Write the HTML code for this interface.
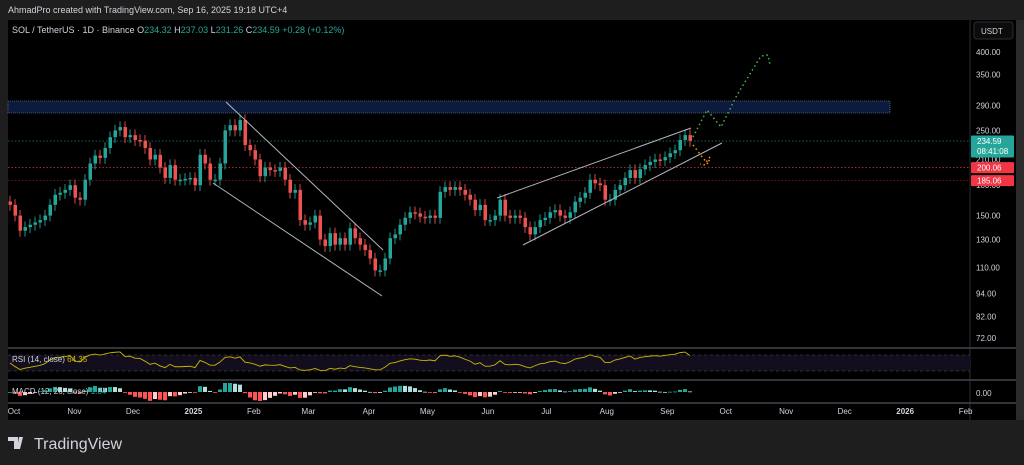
<!DOCTYPE html>
<html><head><meta charset="utf-8">
<style>
body{margin:0;background:#1e1e1e;width:1024px;height:465px;overflow:hidden;font-family:"Liberation Sans",sans-serif}
svg{display:block}
</style></head>
<body>
<svg id="chart" width="1024" height="465">
<rect x="0" y="0" width="1024" height="465" fill="#1e1e1e"/>
<text x="8" y="13" fill="#d1d4dc" font-size="9">AhmadPro created with TradingView.com, Sep 16, 2025 19:18 UTC+4</text>
<rect x="8" y="20" width="1008" height="400" fill="#000"/>
<line x1="970" y1="20" x2="970" y2="420" stroke="#2a2e39"/>
<g id="overlay"></g>
<text x="12" y="33" font-size="9" fill="#d1d4dc">SOL / TetherUS · 1D · Binance <tspan fill="#d1d4dc">O</tspan><tspan fill="#26a69a">234.32</tspan> <tspan fill="#d1d4dc">H</tspan><tspan fill="#26a69a">237.03</tspan> <tspan fill="#d1d4dc">L</tspan><tspan fill="#26a69a">231.26</tspan> <tspan fill="#d1d4dc">C</tspan><tspan fill="#26a69a">234.59</tspan> <tspan fill="#26a69a">+0.28 (+0.12%)</tspan></text>
<rect x="974" y="22" width="39" height="17" rx="3" fill="#0c0c0c" stroke="#2a2e39"/>
<text x="981" y="34" font-size="8" fill="#d1d4dc">USDT</text>
<text x="12" y="362" font-size="8" fill="#d1d4dc">RSI (14, close) <tspan fill="#c9b800">64.35</tspan></text>
<text x="12" y="394" font-size="8" fill="#d1d4dc">MACD (12, 26, close) <tspan fill="#26a69a">1.84</tspan></text>
<text x="976" y="396" font-size="8" fill="#d1d4dc">0.00</text>
<g>
<path d="M8 437h10v12h-4v-8h-6z M19 437h4l-3 12h-3z" fill="#d1d4dc"/>
<text x="34" y="449" font-size="16" fill="#d1d4dc">TradingView</text>
</g>
</svg>
<script>
const closes=[160,150,137,140,142,144,146,150,160,170,172,175,180,167,165,186,205,215,212,225,240,250,255,240,243,236,235,225,210,216,200,188,203,186,186,187,188,180,216,205,186,186,205,250,258,250,266,229,222,210,190,200,197,196,200,186,172,175,146,142,144,150,130,125,135,126,131,126,139,131,126,122,116,108,108,116,131,134,142,148,153,152,149,148,150,148,173,178,175,178,175,170,165,155,160,146,146,150,165,150,148,150,148,140,134,140,146,148,153,155,150,148,153,163,167,172,186,182,180,165,165,175,180,188,197,188,198,203,207,210,209,213,218,222,236,243,235];
const priceTicks=[400,350,290,250,210,180,150,130,110,94,82,72];
const monthLabels=["Oct","Nov","Dec","2025","Feb","Mar","Apr","May","Jun","Jul","Aug","Sep","Oct","Nov","Dec","2026","Feb"];
const monthDays=[0,31,61,92,123,151,182,212,243,273,304,335,365,396,426,457,488];
const NS="http://www.w3.org/2000/svg";
const ov=document.getElementById('overlay');
const yP=p=>52+166.8*Math.log(400/p);
const xI=i=>8+i*5;
const xD=d=>14+d*1.95;
function mk(tag,attrs,parent){const e=document.createElementNS(NS,tag);for(const k in attrs)e.setAttribute(k,attrs[k]);(parent||ov).appendChild(e);return e;}
let z=mk('rect',{x:8,y:101,width:882,height:12,fill:'#0c1a3d',stroke:'#8090b0','stroke-width':0.6,'stroke-dasharray':'1 1'});


[[234.59,'#26a69a'],[200.06,'#f23645'],[185.06,'#a01820']].forEach(([p,c])=>{
 const l=mk('line',{x1:8,x2:970,y1:yP(p),y2:yP(p),stroke:c,'stroke-width':0.8,'stroke-dasharray':'1.5 2',opacity:0.8});
 
 
});
priceTicks.forEach(p=>{
 const t=mk('text',{x:976,y:yP(p)+3,'font-size':8,fill:'#d1d4dc'});t.textContent=p.toFixed(2);
 
 
});
monthLabels.forEach((m,i)=>{
 const t=mk('text',{x:xD(monthDays[i]),y:414,'font-size':8,fill:'#d1d4dc','text-anchor':'middle','font-weight':m.length==4&&m[0]=='2'?'bold':'normal'});t.textContent=m;
 
 
});
closes.forEach((c,i)=>{
 const o=i?closes[i-1]:c*1.02;const up=c>=o;const col=up?'#26a69a':'#ef5350';
 const hi=Math.max(o,c)*1.035,lo=Math.min(o,c)*0.965,x=xI(i);
 const w=mk('line',{x1:x+2,x2:x+2,y1:yP(hi),y2:yP(lo),stroke:col,'stroke-width':0.9});
 
 
 const b=mk('rect',{x:x+0.5,y:yP(Math.max(o,c)),width:3.5,height:Math.max(1.5,yP(Math.min(o,c))-yP(Math.max(o,c))),fill:col});
 
 
});
[[226,102,383,250],[213,183,382,296],[497,198,691,128],[523,245,722,143]].forEach(a=>{
 const l=mk('line',{x1:a[0],y1:a[1],x2:a[2],y2:a[3],stroke:'#b2b5be','stroke-width':1});
 
 
});
let g=mk('polyline',{points:'693,137 707,110 721,127 737,95 761,56 768,55 770,65',fill:'none',stroke:'#4caf50','stroke-width':1.5,'stroke-dasharray':'1.5 3'});


let og=mk('polyline',{points:'693,145 703,158 708,164 710,157 704,165 700,164',fill:'none',stroke:'#ff9800','stroke-width':1.5,'stroke-dasharray':'1.5 3'});


[[234.59,'#26a69a',true],[200.06,'#f23645'],[185.06,'#f23645']].forEach(([p,c,two])=>{
 const y=yP(p);const h=two?22:11;
 const r=mk('rect',{x:971,y:y-5.5,width:43,height:h,fill:c,rx:1});
 
 
 const t=mk('text',{x:977,y:y+3,'font-size':8,fill:'#fff'});t.textContent=p.toFixed(2);
 
 
 if(two){const t2=mk('text',{x:977,y:y+13,'font-size':8,fill:'#fff'});t2.textContent='08:41:08';
 
 }
});
[348,380,403].forEach(y=>{const l=mk('line',{x1:8,x2:1016,y1:y,y2:y,stroke:'#434651','stroke-width':1.5});
 
 });
const band=mk('rect',{x:8,y:355,width:962,height:16,fill:'#120e1e'});


[355,371].forEach(y=>{const l=mk('line',{x1:8,x2:970,y1:y,y2:y,stroke:'#555','stroke-dasharray':'3 3','stroke-width':0.6});
 
 });
let ag=0,al=0,pts=[];
closes.forEach((c,i)=>{if(!i){ag=2;al=2;}else{const d=c-closes[i-1];ag=(ag*8+Math.max(d,0))/9;al=(al*8+Math.max(-d,0))/9;}
 const r=100-100/(1+ag/(al||1e-6));pts.push(xI(i)+2+','+(363-(r-50)*0.3));});
const rl=mk('polyline',{points:pts.join(' '),fill:'none',stroke:'#c9b800','stroke-width':0.9});


let e1=closes[0],e2=closes[0],sg=0,prev=0;
closes.forEach((c,i)=>{e1+=(c-e1)*2/6;e2+=(c-e2)*2/12;const m=e1-e2;sg+=(m-sg)*2/5;const h=m-sg;
 const col=h>=0?(h>=prev?'#26a69a':'#b2dfdb'):(h<prev?'#ff5252':'#ffcdd2');prev=h;
 const hh=Math.max(-9,Math.min(9,h*1.6));
 const b=mk('rect',{x:xI(i),y:hh>0?392-hh:392,width:4,height:Math.max(0.8,Math.abs(hh)),fill:col});
 
 
});
const st=mk('rect',{x:1016,y:20,width:8,height:400,fill:'#2a2a2a'});


</script>
</body></html>
